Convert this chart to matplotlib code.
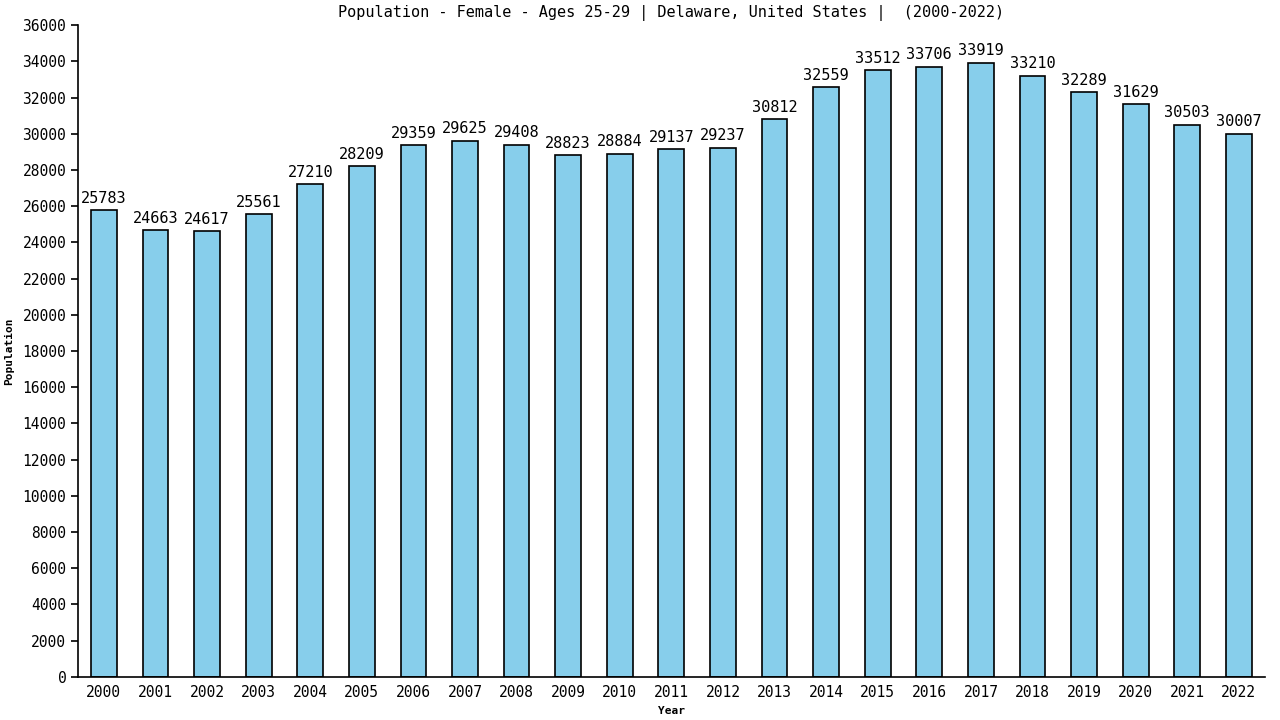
import numpy as np
import matplotlib.pyplot as plt

years = ['2000', '2001', '2002', '2003', '2004', '2005', '2006', '2007', '2008', '2009', '2010', '2011',
         '2012', '2013', '2014', '2015', '2016', '2017', '2018', '2019', '2020', '2021', '2022']
population = [25783, 24663, 24617, 25561, 27210, 28209, 29359, 29625, 29408, 28823, 28884, 29137,
              29237, 30812, 32559, 33512, 33706, 33919, 33210, 32289, 31629, 30503, 30007]
yticks = list(range(0, 36001, 2000))

plt.rcParams['font.family'] = 'DejaVu Sans Mono'

fig = plt.figure(figsize=(12.8, 7.2), dpi=100)
ax = fig.add_axes([0.061, 0.06, 0.927, 0.905])

x = np.arange(len(years))
ax.bar(x, population, width=0.5, color='#87CEEB', edgecolor='black', linewidth=1.2)
for xi, v in zip(x, population):
    ax.text(xi, v + 250, str(v), ha='center', va='bottom', fontsize=11)

ax.set_xlim(-0.5, len(years) - 0.5)
ax.set_ylim(0, 36000)
ax.set_xticks(x)
ax.set_xticklabels(years, fontsize=10.5)
ax.set_yticks(yticks)
ax.set_yticklabels([str(t) for t in yticks], fontsize=10.5)
ax.tick_params(axis='x', length=0, pad=6)
ax.tick_params(axis='y', length=5, width=1.2)
for s in ['top', 'right']:
    ax.spines[s].set_visible(False)
for s in ['left', 'bottom']:
    ax.spines[s].set_linewidth(1.2)

ax.set_title('Population - Female - Ages 25-29 | Delaware, United States |  (2000-2022)', fontsize=11, pad=6)
ax.set_xlabel('Year', fontsize=8, fontweight='bold', labelpad=4)
ax.set_ylabel('Population', fontsize=8, fontweight='bold', labelpad=6)

fig.savefig('out.png', dpi=100)
